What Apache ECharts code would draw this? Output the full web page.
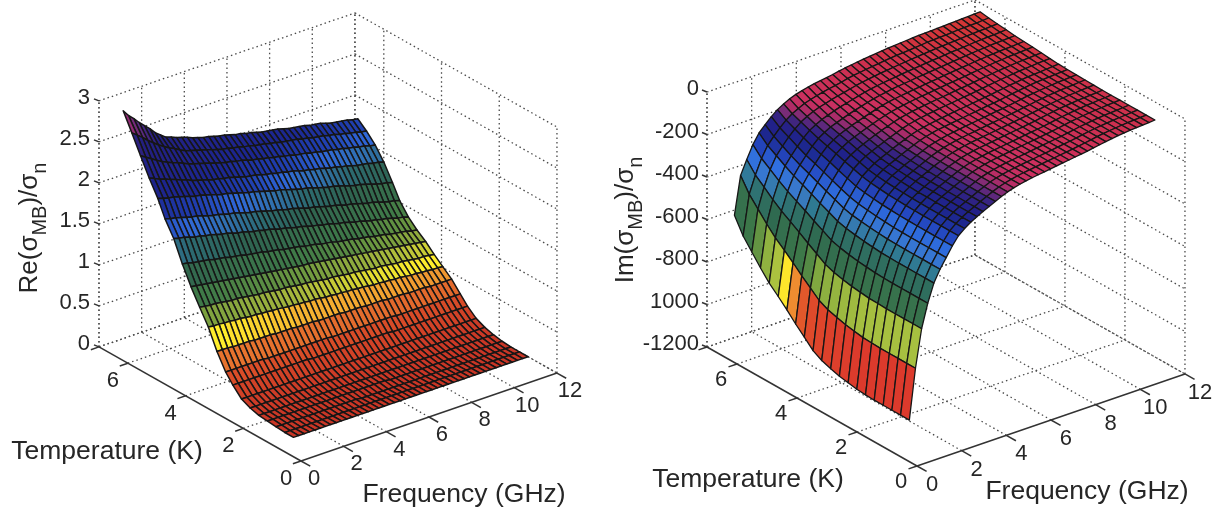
<!DOCTYPE html>
<html><head><meta charset="utf-8">
<style>html,body{margin:0;padding:0;background:#fff}#c{width:1221px;height:515px;filter:blur(0.45px)}</style>
<script src="https://cdn.jsdelivr.net/npm/echarts@6/dist/echarts.min.js"></script>
</head><body><div id="c"></div>
<script>
// ---------- values ----------
const reTemps=[1,1.3,1.6,1.9,2.2,2.5,2.8,3.1,3.35,3.65,3.95,4.25,4.55,4.85,5.15,5.45,5.7,6,6.3,6.6,6.9];
const reFreqs=[1,1.25,1.5,1.75,2,2.25,2.5,2.75,3,3.25,3.5,3.75,4,4.25,4.5,4.75,5,5.25,5.5,5.75,6,6.25,6.5,6.75,7,7.25,7.5,7.75,8,8.25,8.5,8.75,9,9.25,9.5,9.75,10,10.25,10.5,10.75,11,11.25,11.5,11.75,12];
// Re(sigma)/sigma_n x 100, one row per temperature
const reRows=[
[0,0,0,0,0,0,0,0,0,0,0,0,0,0,0,0,0,0,0,0,0,0,0,0,0,0,0,0,0,0,0,0,0,0,0,0,0,0,0,0,0,0,0,0,0],
[0,0,0,0,0,0,0,0,0,0,0,0,0,0,0,0,0,0,0,0,0,0,0,0,0,0,0,0,0,0,0,0,0,0,0,0,0,0,0,0,0,0,0,0,0],
[1,1,1,1,1,1,1,1,1,1,1,1,1,1,1,1,0,0,0,0,0,0,0,0,0,0,0,0,0,0,0,0,0,0,0,0,0,0,0,0,0,0,0,0,0],
[2,2,2,2,2,2,2,2,2,2,2,2,2,2,2,2,2,2,2,2,2,2,2,1,1,1,1,1,1,1,1,1,1,1,1,1,1,1,1,1,1,1,1,1,1],
[3,3,3,3,3,3,3,3,3,3,3,3,3,3,3,3,3,3,3,3,3,3,3,3,3,3,3,3,3,3,3,3,3,3,3,3,3,3,3,3,3,3,3,3,3],
[6,6,6,6,6,6,6,6,6,6,6,6,6,6,6,6,6,6,6,6,6,6,6,6,6,6,6,6,6,6,6,6,6,6,6,6,6,6,6,6,6,6,6,6,6],
[11,11,11,11,11,11,11,11,11,11,11,11,11,11,11,11,11,11,11,11,11,11,11,11,11,11,11,11,11,11,11,11,11,11,11,11,11,11,11,11,11,11,11,11,11],
[22,22,22,22,22,22,22,22,22,22,22,22,22,22,22,21,21,21,21,21,21,21,21,21,21,21,21,21,21,21,20,20,20,20,20,20,20,20,20,20,20,20,20,20,20],
[33,33,33,33,33,33,33,33,32,32,32,32,32,32,32,32,32,32,32,32,31,31,31,31,31,31,31,31,31,31,31,31,30,30,30,30,30,30,30,30,30,30,30,30,30],
[52,52,52,51,51,51,51,50,50,50,50,49,49,49,49,48,48,48,48,47,47,47,47,47,46,46,46,46,45,45,45,45,44,44,44,44,43,43,43,43,42,42,42,42,42],
[76,75,75,74,74,73,73,72,71,71,70,70,69,69,68,67,67,66,66,65,65,64,63,63,62,62,61,61,60,60,59,58,58,57,57,56,56,55,54,54,53,53,52,52,51],
[94,93,92,92,91,90,89,89,88,87,86,85,85,84,83,82,82,81,80,79,79,78,77,76,75,75,74,73,72,72,71,70,69,68,68,67,66,65,65,64,63,62,62,61,60],
[113,112,111,110,109,108,107,106,105,104,103,102,101,100,99,98,97,96,95,94,93,92,92,91,90,89,88,87,86,85,84,83,82,81,80,79,78,77,76,75,74,73,72,71,70],
[135,134,132,131,130,129,127,126,125,123,122,121,119,118,117,116,114,113,112,110,109,108,107,105,104,103,101,100,99,97,96,95,94,92,91,90,88,87,86,84,83,82,81,79,78],
[160,158,157,155,153,152,150,149,147,145,144,142,140,139,137,135,134,132,131,129,127,126,124,122,121,119,117,116,114,113,111,109,108,106,104,103,101,99,98,96,95,93,91,90,88],
[178,176,175,173,171,169,168,166,164,162,161,159,157,156,154,152,150,149,147,145,143,142,140,138,137,135,133,131,130,128,126,124,123,121,119,118,116,114,112,111,109,107,105,104,102],
[198,196,194,193,191,189,187,185,184,182,180,178,176,175,173,171,169,167,166,164,162,160,158,157,155,153,151,149,148,146,144,142,140,139,137,135,133,131,130,128,126,124,122,121,119],
[217,214,211,209,206,204,201,199,196,194,192,190,188,187,185,184,182,180,178,177,176,174,172,171,169,168,166,165,163,161,160,158,157,155,153,152,150,149,147,145,144,143,141,140,138],
[238,234,230,226,222,219,216,214,211,208,206,204,202,200,198,196,194,193,191,190,188,186,185,183,182,180,179,177,176,174,173,172,170,169,167,166,165,163,162,160,159,157,156,154,153],
[260,255,250,244,239,234,230,226,223,219,216,214,212,210,208,206,204,202,201,199,198,196,195,193,192,191,189,188,186,185,184,183,181,180,178,177,176,174,173,171,170,168,167,165,164],
[281,273,267,260,254,248,241,236,231,229,226,224,222,219,217,215,214,212,210,209,207,205,204,202,201,199,197,196,195,194,192,190,189,188,187,185,184,183,181,179,178,177,176,174,173]
];
const imTemps=[1,1.29,1.58,1.87,2.17,2.46,2.75,3.04,3.33,3.62,3.92,4.21,4.5,4.79,5.08,5.37,5.67,5.96,6.25,6.54,6.83];
const imFreqs=[1,1.275,1.55,1.825,2.1,2.375,2.65,2.925,3.2,3.475,3.75,4.025,4.3,4.575,4.85,5.125,5.4,5.675,5.95,6.225,6.5,6.775,7.05,7.325,7.6,7.875,8.15,8.425,8.7,8.975,9.25,9.525,9.8,10.075,10.35,10.625,10.9,11.175,11.45,11.725,12];
// Im(sigma)/sigma_n, one row per temperature
const imRows=[
[-1100,-866,-690,-580,-495,-440,-395,-350,-312,-288,-268,-252,-238,-224,-210,-197,-185,-176,-169,-163,-158,-154,-150,-146,-142,-138,-134,-130,-126,-122,-117,-112,-107,-103,-99,-96,-93,-91,-89,-87,-85],
[-1100,-866,-690,-580,-495,-440,-395,-350,-312,-288,-268,-252,-238,-224,-210,-197,-185,-176,-169,-163,-158,-154,-150,-146,-142,-138,-134,-130,-126,-122,-117,-112,-107,-103,-99,-96,-93,-91,-89,-87,-85],
[-1100,-866,-690,-580,-495,-440,-395,-350,-312,-288,-268,-252,-238,-224,-210,-197,-185,-176,-169,-163,-158,-154,-150,-146,-142,-138,-134,-130,-126,-122,-117,-112,-107,-103,-99,-96,-93,-91,-89,-87,-85],
[-1100,-866,-690,-580,-495,-440,-395,-350,-312,-288,-268,-252,-238,-224,-210,-197,-185,-176,-169,-163,-158,-154,-150,-146,-142,-138,-134,-130,-126,-122,-117,-112,-107,-103,-99,-96,-93,-91,-89,-87,-85],
[-1100,-866,-690,-580,-495,-440,-395,-350,-312,-288,-268,-252,-238,-224,-210,-197,-185,-176,-169,-163,-158,-154,-150,-146,-142,-138,-134,-130,-126,-122,-117,-112,-107,-103,-99,-96,-93,-91,-89,-87,-85],
[-1098,-864,-688,-579,-494,-439,-394,-349,-311,-287,-267,-251,-237,-223,-209,-196,-185,-176,-169,-163,-158,-154,-150,-146,-142,-138,-134,-130,-126,-122,-117,-112,-107,-103,-99,-96,-93,-91,-89,-87,-85],
[-1095,-862,-687,-577,-493,-438,-393,-348,-310,-286,-267,-251,-237,-223,-209,-196,-184,-175,-168,-162,-157,-153,-149,-145,-141,-137,-133,-129,-125,-121,-116,-111,-106,-102,-99,-96,-93,-91,-89,-87,-85],
[-1088,-855,-682,-573,-489,-435,-390,-346,-308,-284,-265,-249,-235,-221,-207,-195,-183,-174,-167,-161,-156,-152,-148,-144,-140,-136,-132,-128,-124,-120,-115,-111,-106,-102,-98,-95,-92,-90,-88,-86,-84],
[-1080,-848,-677,-569,-485,-431,-387,-343,-306,-282,-263,-247,-233,-220,-206,-193,-182,-173,-166,-160,-155,-151,-147,-143,-139,-135,-131,-127,-123,-119,-114,-110,-105,-101,-97,-94,-91,-89,-87,-85,-83],
[-1068,-837,-669,-562,-479,-426,-382,-339,-302,-279,-259,-244,-230,-217,-203,-191,-179,-171,-164,-158,-153,-149,-145,-141,-137,-133,-129,-125,-122,-118,-113,-108,-103,-100,-96,-93,-90,-88,-86,-84,-82],
[-1053,-824,-659,-553,-472,-420,-376,-333,-297,-274,-255,-240,-227,-213,-200,-188,-177,-168,-161,-155,-151,-147,-143,-139,-135,-131,-127,-123,-120,-116,-111,-106,-102,-98,-94,-91,-89,-87,-85,-83,-81],
[-1030,-804,-644,-541,-461,-410,-367,-326,-290,-268,-249,-234,-221,-208,-196,-184,-173,-164,-158,-152,-147,-143,-139,-135,-131,-128,-124,-120,-116,-113,-108,-104,-99,-96,-92,-89,-87,-85,-83,-81,-79],
[-990,-769,-617,-518,-442,-393,-352,-312,-278,-256,-238,-224,-212,-199,-188,-177,-166,-158,-151,-146,-141,-137,-133,-129,-126,-122,-118,-115,-111,-107,-103,-99,-95,-92,-88,-85,-83,-81,-79,-77,-76],
[-951,-734,-591,-496,-423,-376,-336,-298,-266,-245,-228,-214,-202,-190,-179,-169,-159,-151,-145,-139,-135,-131,-127,-123,-120,-116,-112,-109,-106,-102,-98,-94,-91,-87,-84,-82,-79,-78,-76,-74,-72],
[-908,-696,-563,-472,-403,-358,-319,-283,-253,-233,-216,-203,-192,-181,-171,-161,-152,-144,-138,-133,-128,-124,-120,-117,-113,-110,-106,-103,-100,-97,-93,-89,-86,-83,-80,-78,-75,-74,-72,-70,-68],
[-868,-661,-537,-450,-383,-340,-303,-269,-240,-221,-205,-193,-182,-172,-163,-154,-145,-137,-131,-126,-122,-118,-114,-111,-107,-104,-101,-97,-94,-91,-88,-85,-81,-79,-76,-74,-72,-70,-69,-67,-65],
[-829,-626,-510,-427,-364,-323,-288,-255,-228,-210,-194,-183,-173,-163,-154,-146,-138,-131,-125,-120,-115,-111,-108,-105,-101,-98,-95,-92,-89,-86,-83,-80,-77,-75,-72,-70,-68,-66,-65,-63,-62],
[-781,-584,-479,-401,-341,-303,-269,-238,-213,-196,-182,-171,-161,-152,-145,-137,-130,-123,-117,-112,-108,-104,-101,-97,-94,-91,-88,-85,-82,-80,-77,-74,-72,-70,-68,-65,-64,-62,-61,-59,-57],
[-729,-537,-444,-371,-316,-281,-248,-220,-197,-181,-167,-157,-149,-141,-134,-128,-121,-114,-109,-104,-100,-96,-93,-89,-86,-83,-80,-78,-75,-73,-70,-68,-66,-64,-62,-60,-59,-57,-56,-54,-53],
[-677,-491,-410,-342,-291,-258,-228,-201,-181,-166,-153,-144,-136,-129,-123,-118,-112,-105,-100,-96,-92,-88,-85,-81,-78,-75,-73,-71,-68,-66,-63,-62,-60,-59,-57,-55,-54,-53,-52,-50,-48],
[-602,-425,-360,-300,-255,-226,-198,-175,-158,-144,-133,-125,-118,-112,-108,-104,-99,-93,-88,-84,-80,-76,-73,-70,-67,-64,-62,-60,-58,-56,-54,-53,-52,-51,-50,-48,-47,-46,-45,-43,-42]
];
const tempTicks=[0,2,4,6];
const freqTicks=[0,2,4,6,8,10,12];
const reZTicks=[0,0.5,1,1.5,2,2.5,3];
const reZLabels=['0','0.5','1','1.5','2','2.5','3'];
const imZTicks=[-1200,-1000,-800,-600,-400,-200,0];
const imZLabels=['-1200','1000','-800','-600','-400','-200','0'];
const reColors=[[0,'#c93626'],[.08,'#d94e28'],[.13,'#ea8030'],[.17,'#f5b030'],[.185,'#ffee2c'],[.205,'#e8e030'],[.235,'#a8b83c'],[.28,'#6f9a40'],[.33,'#3f7a48'],[.42,'#2f6450'],[.47,'#2c6a70'],[.51,'#3070b0'],[.55,'#3068d8'],[.59,'#2040b0'],[.66,'#1c2690'],[.84,'#241f80'],[.89,'#5a2a80'],[.94,'#a82c70'],[1,'#cc3050']];
const imColors=[[0,'#dc3a2c'],[.1,'#e0522a'],[.14,'#ee8a30'],[.165,'#f7b92e'],[.185,'#fff02a'],[.205,'#dde030'],[.22,'#a8c040'],[.28,'#80a840'],[.33,'#3f7a48'],[.45,'#2f6a50'],[.52,'#2f7068'],[.57,'#2f7a90'],[.6,'#3a7ac8'],[.66,'#3070e0'],[.71,'#2448c0'],[.76,'#1c2890'],[.8,'#222088'],[.83,'#3a2480'],[.85,'#7a2c78'],[.87,'#b42c66'],[.89,'#cc3060'],[.95,'#cc3050'],[1,'#d6382f']];

// ---------- layout of the two oblique views ----------
const FONT='"Liberation Sans",Arial,sans-serif';
const panels=[
 {o:[301,461],fv:[21.33,-7.33],tv:[-28.86,-16.3],zv:82,zmin:0,zmax:3,tmax:7,fmax:12,
  temps:reTemps,freqs:reFreqs,rows:reRows,scale:0.01,lo:0,hi:2.81,stops:reColors,zTicks:reZTicks,zLabels:reZLabels,zLabelX:90,
  tOff:[-15,18],fOff:[13,18],lw:1.5,
  titles:[{t:'Temperature (K)',x:107,y:452},{t:'Frequency (GHz)',x:464,y:495}],
  zName:{x:30,y:228,lead:'Re(σ',subA:'MB',mid:')/σ',subB:'n'}},
 {o:[917,466],fv:[22.33,-7.67],tv:[-30,-17],zv:0.2125,zmin:-1200,zmax:0,tmax:7,fmax:12,
  temps:imTemps,freqs:imFreqs,rows:imRows,scale:1,lo:-1100,hi:-42,stops:imColors,zTicks:imZTicks,zLabels:imZLabels,zLabelX:699,
  tOff:[-16,16],fOff:[15,19],lw:1.3,
  titles:[{t:'Temperature (K)',x:748,y:480},{t:'Frequency (GHz)',x:1087,y:492}],
  zName:{x:626,y:220,lead:'Im(σ',subA:'MB',mid:')/σ',subB:'n'}}
];
function proj(p,f,t,z){
  return [p.o[0]+p.fv[0]*f+p.tv[0]*t, p.o[1]+p.fv[1]*f+p.tv[1]*t-p.zv*(z-p.zmin)];
}
function hex(c){return [1,3,5].map(i=>parseInt(c.substr(i,2),16));}
function colorAt(stops,u){
  u=Math.max(0,Math.min(1,u));
  for(let i=1;i<stops.length;i++){
    if(u<=stops[i][0]){
      const a=stops[i-1],b=stops[i],k=(u-a[0])/(b[0]-a[0]);
      const A=hex(a[1]),B=hex(b[1]);
      return 'rgb('+A.map((v,n)=>Math.round(v+(B[n]-v)*k)).join(',')+')';
    }
  }
  return stops[stops.length-1][1];
}
function lineSeries(p,segs,style){
  return {type:'custom',coordinateSystem:'cartesian2d',clip:false,silent:true,animation:false,progressive:0,
    data:segs.map((s,i)=>[i,0]),
    renderItem(params,api){
      const s=segs[params.dataIndex];
      const a=api.coord(proj(p,s[0],s[1],s[2])),b=api.coord(proj(p,s[3],s[4],s[5]));
      return {type:'line',shape:{x1:a[0]+(s[6]||0),y1:a[1]+(s[7]||0),x2:b[0],y2:b[1]},style};
    }};
}
function surfaceSeries(p){
  const items=[];
  for(let r=p.temps.length-2;r>=0;r--)for(let c=p.freqs.length-2;c>=0;c--)items.push([r,c]);
  return {type:'custom',coordinateSystem:'cartesian2d',clip:false,silent:true,animation:false,progressive:0,
    data:items,
    renderItem(params,api){
      const r=api.value(0),c=api.value(1),T=p.temps,F=p.freqs,Z=p.rows,s=p.scale;
      const pts=[[c,r],[c+1,r],[c+1,r+1],[c,r+1]].map(q=>api.coord(proj(p,F[q[0]],T[q[1]],Z[q[1]][q[0]]*s)));
      // flat shading: each facet takes the colour of its first corner
      const zc=Z[r][c]*s;
      return {type:'polygon',shape:{points:pts},style:{fill:colorAt(p.stops,(zc-p.lo)/(p.hi-p.lo)),stroke:'#161616',lineWidth:p.lw,lineJoin:'round'}};
    }};
}
function textSeries(items){
  return {type:'custom',coordinateSystem:'cartesian2d',clip:false,silent:true,animation:false,progressive:0,
    data:items.map((t,i)=>[i,0]),z:5,
    renderItem(params,api){
      const t=items[params.dataIndex];
      const c=api.coord(t.pos);
      return {type:'text',x:c[0],y:c[1],rotation:t.rot||0,
        style:{text:t.text,rich:t.rich,font:t.font||('22px '+FONT),fill:'#262626',align:t.align||'center',verticalAlign:'middle'}};
    }};
}
const series=[];
const dotted={stroke:'#4a4a4a',lineWidth:1.3,lineDash:[1.5,3],fill:null};
const solid={stroke:'#333',lineWidth:1.5,fill:null};
panels.forEach(p=>{
  const {tmax:TM,fmax:FM,zmin:Z0,zmax:Z1}=p;
  const segs=[];
  // floor grid
  tempTicks.concat([TM]).forEach(t=>{if(t>0)segs.push([0,t,Z0,FM,t,Z0]);});
  freqTicks.forEach(f=>{if(f>0)segs.push([f,0,Z0,f,TM,Z0]);});
  // rear walls
  p.zTicks.forEach(z=>{segs.push([0,TM,z,FM,TM,z]);segs.push([FM,TM,z,FM,0,z]);});
  freqTicks.forEach(f=>segs.push([f,TM,Z0,f,TM,Z1]));
  tempTicks.concat([TM]).forEach(t=>segs.push([FM,t,Z0,FM,t,Z1]));
  segs.push([0,TM,Z0,0,TM,Z1]);
  series.push(lineSeries(p,segs,dotted));
  // solid axes and tick marks
  const ax=[[0,0,Z0,0,TM,Z0],[0,0,Z0,FM,0,Z0]];
  tempTicks.concat([TM]).forEach(t=>ax.push([0,t,Z0,-0.38,t,Z0]));
  freqTicks.forEach(f=>ax.push([f,0,Z0,f,-0.32,Z0]));
  series.push(lineSeries(p,ax,solid));
  series.push(lineSeries(p,p.zTicks.map(z=>[0,TM,z,0,TM,z,-5,-2]),solid));
  series.push(surfaceSeries(p));
  const tx=[];
  p.zTicks.forEach((z,i)=>{const q=proj(p,0,TM,z);tx.push({text:p.zLabels[i],pos:[p.zLabelX,q[1]-3],align:'right'});});
  tempTicks.forEach(t=>{const q=proj(p,0,t,Z0);tx.push({text:String(t),pos:[q[0]+p.tOff[0],q[1]+p.tOff[1]]});});
  freqTicks.forEach(f=>{const q=proj(p,f,0,Z0);tx.push({text:String(f),pos:[q[0]+p.fOff[0],q[1]+p.fOff[1]]});});
  p.titles.forEach(t=>tx.push({text:t.t,pos:[t.x,t.y],font:'26.5px '+FONT}));
  const n=p.zName;
  tx.push({pos:[n.x,n.y],rot:Math.PI/2,
    text:'{a|'+n.lead+'}{s|'+n.subA+'}{a|'+n.mid+'}{s|'+n.subB+'}',
    rich:{a:{font:'26px '+FONT,fill:'#262626',lineHeight:40,verticalAlign:'middle'},s:{font:'20px '+FONT,fill:'#262626',lineHeight:40,verticalAlign:'bottom'}}});
  series.push(textSeries(tx));
});
const chart=echarts.init(document.getElementById('c'),null,{renderer:'canvas',width:1221,height:515});
chart.setOption({
  animation:false,backgroundColor:'#fff',
  grid:{left:0,top:0,width:1221,height:515,containLabel:false},
  xAxis:{type:'value',min:0,max:1221,show:false},
  yAxis:{type:'value',min:0,max:515,inverse:true,show:false},
  series
});
</script></body></html>
